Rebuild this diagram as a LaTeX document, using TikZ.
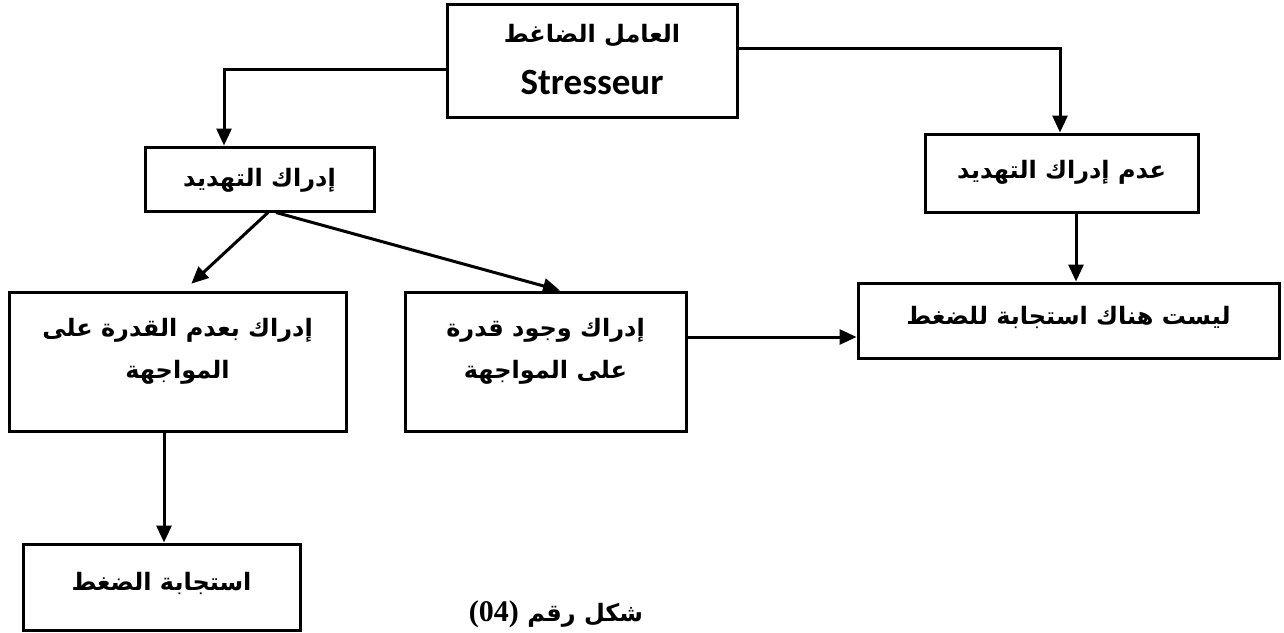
\documentclass[tikz,border=0pt]{standalone}
\usepackage{fontspec}
\usetikzlibrary{arrows.meta}
\TeXXeTstate=1
\newfontfamily\arabicfont[Script=Arabic]{DejaVu Sans}
\newfontfamily\latinsans{Carlito}
\newfontfamily\latinserif{Liberation Serif}
\begin{document}
\begin{tikzpicture}[x=1pt,y=-1pt,
  box/.style={draw, line width=3pt, rectangle, inner sep=0pt},
  txt/.style={font=\arabicfont\bfseries\fontsize{24}{42}\selectfont, align=center, inner sep=0pt},
  arr/.style={line width=3pt, -{Triangle[length=17pt,width=15pt]}}]
\useasboundingbox (0,0) rectangle (1284,632);

% boxes
\node[box, minimum width=290pt, minimum height=113pt] (A) at (592,60.5) {};
\node[box, minimum width=229pt, minimum height=64pt] (B) at (259.5,179) {};
\node[box, minimum width=273pt, minimum height=78pt] (C) at (1061.5,173) {};
\node[box, minimum width=337pt, minimum height=139pt] (D) at (177.5,361.5) {};
\node[box, minimum width=281pt, minimum height=139pt] (E) at (545.5,361.5) {};
\node[box, minimum width=421pt, minimum height=75pt] (F) at (1068.5,320.5) {};
\node[box, minimum width=277pt, minimum height=86pt] (G) at (161.5,587) {};

% box texts
\node[txt] (ta1) at (592,36) {\beginR العامل الضاغط\endR};
\node[font=\latinsans\bfseries\fontsize{37}{40}\selectfont, inner sep=0pt] (ta2) at (592,83) {Stresseur};
\node[txt] (tb) at (259.5,180) {\beginR إدراك التهديد\endR};
\node[txt] (tc) at (1061.5,172) {\beginR عدم إدراك التهديد\endR};
\node[txt] (td) at (177.5,351) {\beginR إدراك بعدم القدرة على\endR\\ \beginR المواجهة\endR};
\node[txt] (te) at (545.5,351) {\beginR إدراك وجود قدرة\endR\\ \beginR على المواجهة\endR};
\node[txt] (tf) at (1068.5,317) {\beginR ليست هناك استجابة للضغط\endR};
\node[txt] (tg) at (161.5,583) {\beginR استجابة الضغط\endR};

% caption
\node[font=\arabicfont\bfseries\fontsize{24}{28}\selectfont, inner sep=0pt] (cap) at (556,614)
  {\beginR شكل رقم \beginL{\latinserif\bfseries\fontsize{30}{32}\selectfont (04)}\endL\endR};

% connectors
\draw[arr] (A.west |- 0,69) -| (B.north -| 224,0);
\draw[arr] (A.east |- 0,48) -| (C.north -| 1060,0);
\draw[arr, shorten >=10pt] (B.south -| 268,0) -- (D.north -| 184,0);
\draw[arr] (B.south -| 276,0) -- (E.north -| 560,0);
\draw[arr] (C.south -| 1076,0) -- (F.north -| 1076,0);
\draw[arr] (E.east |- 0,337) -- (F.west |- 0,337);
\draw[arr] (D.south -| 164,0) -- (G.north -| 164,0);
\end{tikzpicture}
\end{document}
